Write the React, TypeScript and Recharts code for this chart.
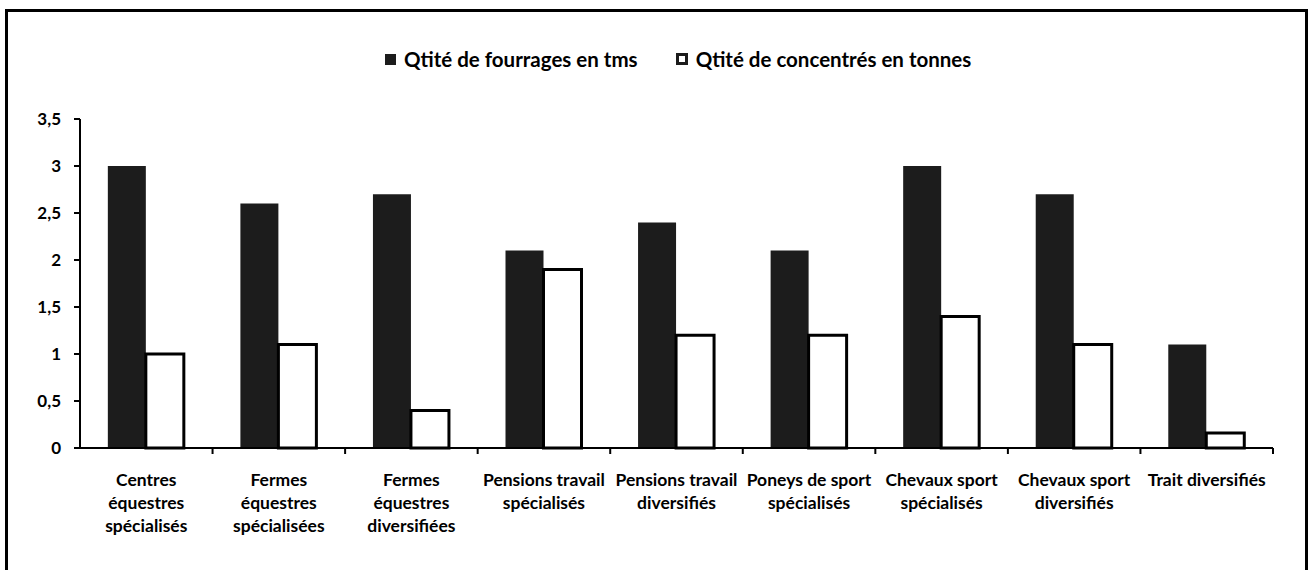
import React from "react";
import { BarChart, Bar, XAxis, YAxis, Legend } from "recharts";

const categories = [
  "Centres équestres spécialisés",
  "Fermes équestres spécialisées",
  "Fermes équestres diversifiées",
  "Pensions travail spécialisés",
  "Pensions travail diversifiés",
  "Poneys de sport spécialisés",
  "Chevaux sport spécialisés",
  "Chevaux sport diversifiés",
  "Trait diversifiés",
];

const tickLabels = [
  "Centres\néquestres\nspécialisés",
  "Fermes\néquestres\nspécialisées",
  "Fermes\néquestres\ndiversifiées",
  "Pensions travail\nspécialisés",
  "Pensions travail\ndiversifiés",
  "Poneys de sport\nspécialisés",
  "Chevaux sport\nspécialisés",
  "Chevaux sport\ndiversifiés",
  "Trait diversifiés",
];

const fourrages = [3.0, 2.6, 2.7, 2.1, 2.4, 2.1, 3.0, 2.7, 1.1];
const concentres = [1.0, 1.1, 0.4, 1.9, 1.2, 1.2, 1.4, 1.1, 0.16];

const yTicks = [0, 0.5, 1, 1.5, 2, 2.5, 3, 3.5];
const yTickLabels = ["0", "0,5", "1", "1,5", "2", "2,5", "3", "3,5"];

const seriesNames = ["Qtité de fourrages en tms", "Qtité de concentrés en tonnes"];

const data = categories.map((c, i) => ({
  name: c,
  fourrages: fourrages[i],
  concentres: concentres[i],
}));

const W = 1309;
const H = 570;
const X_AXIS_H = 30;
const MARGIN = { top: 119, right: 36, bottom: 122 - X_AXIS_H, left: 0 };
const Y_AXIS_W = 80;
const PLOT_W = W - MARGIN.left - MARGIN.right - Y_AXIS_W;
const BAND = PLOT_W / categories.length;
const FONT = "Lato, 'Open Sans', sans-serif";

const XTick = (props: any) => {
  const { x, y, index } = props;
  const lines = tickLabels[index].split("\n");
  return (
    <g>
      <line x1={x + BAND / 2} x2={x + BAND / 2} y1={y} y2={y + 6} stroke="#000" strokeWidth={2} />
      <text
        x={x}
        y={y}
        textAnchor="middle"
        fontFamily={FONT}
        fontWeight={700}
        fontSize={17.5}
        fill="#000"
      >
        {lines.map((l, i) => (
          <tspan key={i} x={x} dy={i === 0 ? 38 : 23}>
            {l}
          </tspan>
        ))}
      </text>
    </g>
  );
};

const YTick = (props: any) => {
  const { x, y, payload } = props;
  const idx = yTicks.indexOf(payload.value);
  return (
    <text
      x={x}
      y={y}
      dy={6}
      textAnchor="end"
      fontFamily={FONT}
      fontWeight={700}
      fontSize={17}
      fill="#000"
    >
      {idx >= 0 ? yTickLabels[idx] : payload.value}
    </text>
  );
};

const LegendContent = () => (
  <div
    style={{
      display: "flex",
      justifyContent: "flex-start",
      alignItems: "center",
      paddingLeft: 385,
      fontFamily: FONT,
      fontWeight: 700,
      fontSize: 20.5,
      lineHeight: "24px",
      color: "#000",
    }}
  >
    <span style={{ display: "flex", alignItems: "center", marginRight: 38 }}>
      <span
        style={{ width: 11, height: 11, background: "#1c1c1c", display: "inline-block", marginRight: 8 }}
      />
      {seriesNames[0]}
    </span>
    <span style={{ display: "flex", alignItems: "center" }}>
      <span
        style={{
          width: 6,
          height: 6,
          background: "#fff",
          border: "3px solid #1c1c1c",
          display: "inline-block",
          marginRight: 8,
        }}
      />
      {seriesNames[1]}
    </span>
  </div>
);

export default function App() {
  return (
    <div
      style={{
        position: "absolute",
        left: 0,
        top: 0,
        width: W,
        height: H,
        overflow: "hidden",
        background: "#fff",
      }}
    >
      <div
        style={{
          position: "absolute",
          left: 5,
          top: 9,
          width: 1297,
          height: 700,
          border: "3px solid #000",
          borderBottom: "none",
        }}
      />
      <div style={{ position: "absolute", left: 0, top: 0 }}>
        <BarChart width={W} height={H} data={data} margin={MARGIN} barCategoryGap="21%" barGap={0}>
          <XAxis
            dataKey="name"
            height={X_AXIS_H}
            interval={0}
            tickLine={false}
            tickSize={0}
            tickMargin={0}
            tick={<XTick />}
            axisLine={{ stroke: "#000", strokeWidth: 2 }}
          />
          <YAxis
            width={Y_AXIS_W}
            domain={[0, 3.5]}
            ticks={yTicks}
            interval={0}
            tickSize={6}
            tickMargin={13}
            tick={<YTick />}
            tickLine={{ stroke: "#000", strokeWidth: 2 }}
            axisLine={{ stroke: "#000", strokeWidth: 2 }}
          />
          <Legend
            verticalAlign="top"
            content={<LegendContent />}
            wrapperStyle={{ top: 47, left: 0, width: W, height: 0, overflow: "visible" }}
          />
          <Bar dataKey="fourrages" name={seriesNames[0]} fill="#1c1c1c" isAnimationActive={false} />
          <Bar
            dataKey="concentres"
            name={seriesNames[1]}
            fill="#fff"
            stroke="#000"
            strokeWidth={3}
            isAnimationActive={false}
          />
        </BarChart>
      </div>
    </div>
  );
}
